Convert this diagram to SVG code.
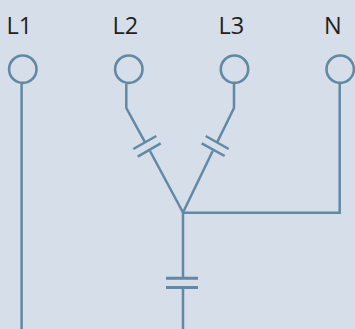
<svg xmlns="http://www.w3.org/2000/svg" width="355" height="329" viewBox="0 0 355 329">
<style>
.bg{fill:#d6dee9}
.t{font-family:"Open Sans","Noto Sans",sans-serif;font-size:23.5px;fill:#231f20}
.term{fill:none;stroke:#6289a4;stroke-width:2.6}
.w{fill:none;stroke:#6289a4;stroke-width:2.5}
.p{fill:none;stroke:#6289a4;stroke-width:3}
</style>
<rect class="bg" width="355" height="329"/>
<g id="connectors">
<path class="w" d="M21.6 84V329"/>
<path class="w" d="M126.3 84V108L144.7 141.7"/>
<path class="w" d="M150 151L183 212.5"/>
<path class="w" d="M234 84V108L217.3 142"/>
<path class="w" d="M212.7 151L183 212.5"/>
<path class="w" d="M339.7 84V212.7H183"/>
<path class="w" d="M183 212V277"/>
<path class="w" d="M183 288V329"/>
<path class="w" d="M133.3 149L156.3 136M137.7 156.7L160.7 143.3M205.7 136L228.7 149M201.7 143.3L224.7 156"/>
<path class="p" d="M166 278.3H198M166 287.5H198"/>
</g>
<g id="L1"><circle class="term" cx="22.8" cy="69.2" r="13.7"/><text class="t" x="6.5" y="34">L1</text></g>
<g id="L2"><circle class="term" cx="128.8" cy="69.2" r="13.7"/><text class="t" x="112.5" y="34">L2</text></g>
<g id="L3"><circle class="term" cx="234.5" cy="69.2" r="13.7"/><text class="t" x="218.5" y="34">L3</text></g>
<g id="N"><circle class="term" cx="340.2" cy="69.2" r="13.7"/><text class="t" x="324" y="34">N</text></g>
</svg>
